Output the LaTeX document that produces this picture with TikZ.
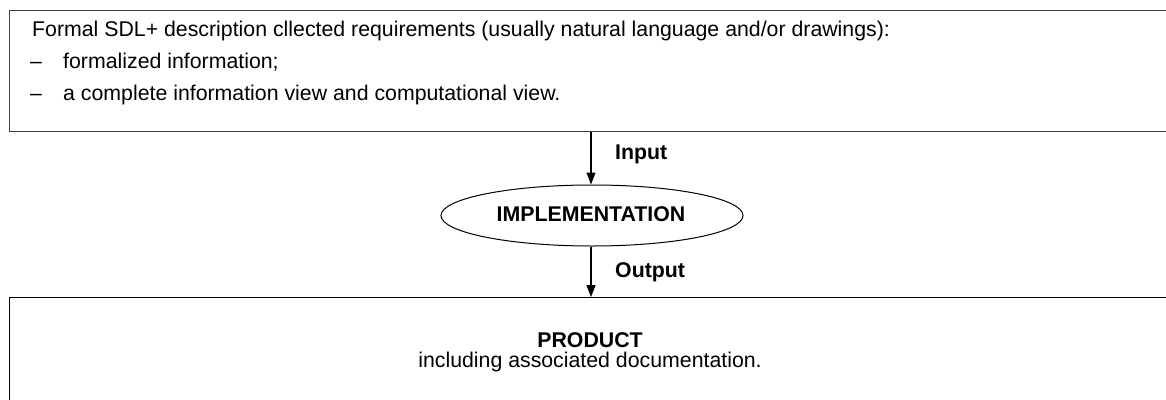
\documentclass[tikz,border=0pt]{standalone}
\usepackage{fontspec}
\setmainfont{Liberation Sans}
\usetikzlibrary{shapes.geometric,arrows.meta}
\begin{document}
\begin{tikzpicture}[x=1pt,y=-1pt,
  txt/.style={inner sep=0pt,font=\fontsize{21.3}{25}\selectfont},
  btxt/.style={inner sep=0pt,font=\fontsize{21.3}{25}\selectfont\bfseries},
  frame/.style={draw=black!75,line width=1.3pt,inner sep=0pt,anchor=north west},
  conn/.style={line width=1.1pt,-{Triangle[length=12pt,width=9pt]}}]
\useasboundingbox (0,0) rectangle (1166,399);
\clip (0,0) rectangle (1166,399);
\node[frame,minimum width=1161pt,minimum height=121pt] (top) at (9,10) {};
\node[txt,anchor=base west] (t1) at (32,36) {Formal SDL+ description cllected requirements (usually natural language and/or drawings):};
\node[txt,anchor=base west] (d1) at (30,68) {--};
\node[txt,anchor=base west] (t2) at (63,68) {formalized information;};
\node[txt,anchor=base west] (d2) at (30,100) {--};
\node[txt,anchor=base west] (t3) at (63,100) {a complete information view and computational view.};
\node[draw,ellipse,line width=1pt,minimum width=302pt,minimum height=61pt,inner sep=0pt] (impl) at (592,215.5) {};
\node[btxt,anchor=base] (implt) at (591,221) {IMPLEMENTATION};
\node[frame,draw=black,minimum width=1161pt,minimum height=110pt] (prod) at (9,297) {};
\node[btxt,anchor=base] (pt1) at (590,347) {PRODUCT};
\node[txt,anchor=base] (pt2) at (590,367) {including associated documentation.};
\coordinate (inA) at (591,131);
\coordinate (outB) at (591,297);
\draw[conn] (top.south -| inA) -- (impl.north -| inA);
\draw[conn] (impl.south -| inA) -- (prod.north -| outB);
\node[btxt,anchor=base west] (inl) at (615,159) {Input};
\node[btxt,anchor=base west] (outl) at (615,277) {Output};
\end{tikzpicture}
\end{document}
